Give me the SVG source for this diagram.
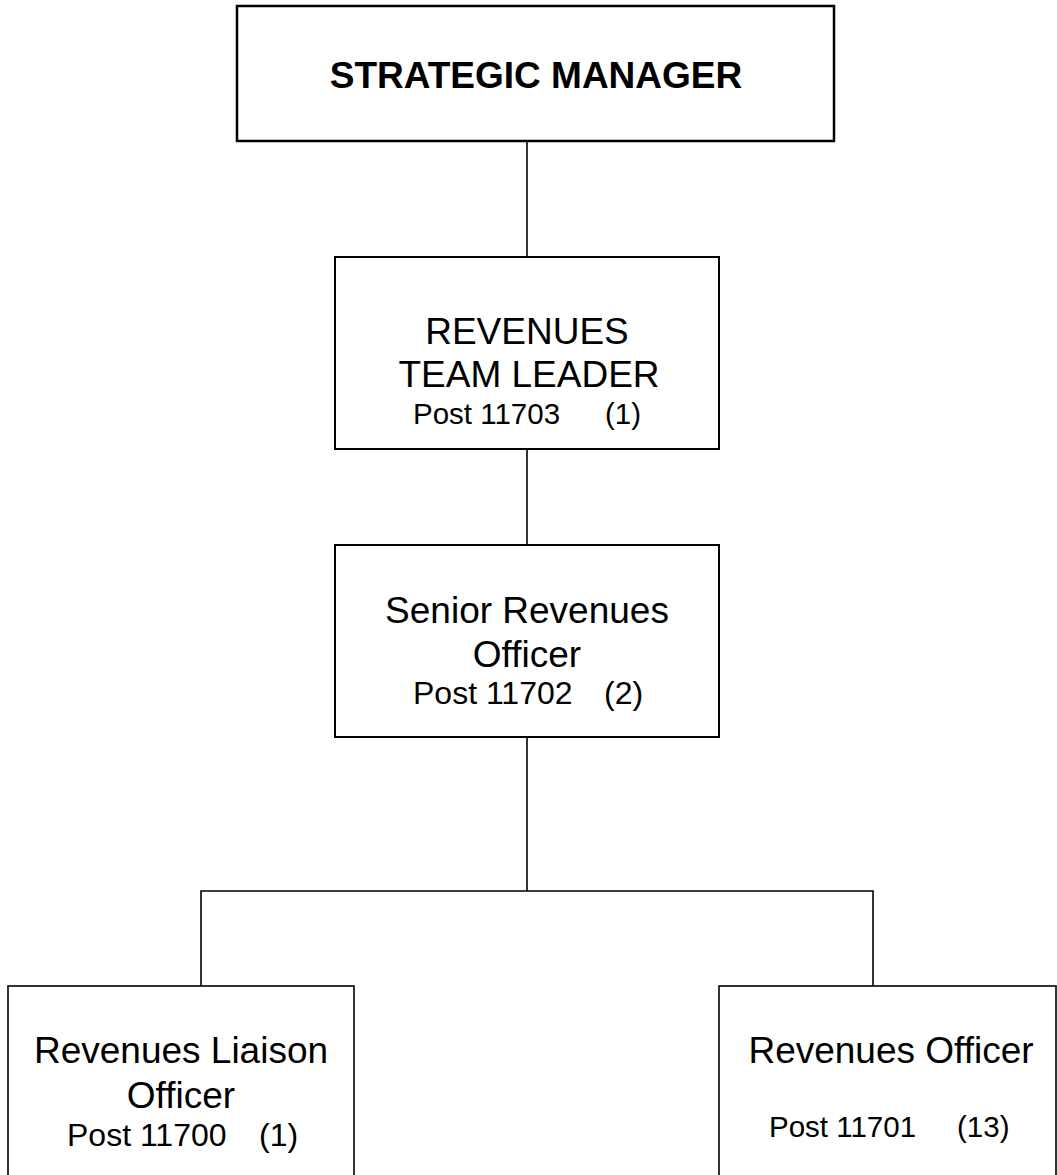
<svg xmlns="http://www.w3.org/2000/svg" width="1057" height="1175" viewBox="0 0 1057 1175">
<style>
.box{fill:#fff;stroke:#000;stroke-width:2}
.thick{stroke-width:2.5}
.thin{stroke-width:1.6}
.t{font-family:"Liberation Sans",Arial,sans-serif;fill:#000;text-anchor:middle}
.h{font-size:37px}
.b{font-weight:bold}
.p{font-family:"Liberation Sans",Arial,sans-serif;fill:#000}
.conn{stroke:#000;stroke-width:1.6;fill:none}
</style>
<rect width="1057" height="1175" fill="#fff"/>
<g id="connectors">
<line class="conn" x1="527" y1="141" x2="527" y2="257"/>
<line class="conn" x1="527" y1="449" x2="527" y2="545"/>
<line class="conn" x1="527" y1="737" x2="527" y2="891"/>
<polyline class="conn" points="201,986 201,891 873,891 873,986"/>
</g>
<g id="strategic-manager">
<rect class="box thick" x="237" y="6" width="597" height="135"/>
<text class="t h b" x="536" y="88">STRATEGIC MANAGER</text>
</g>
<g id="revenues-team-leader">
<rect class="box" x="335" y="257" width="384" height="192"/>
<text class="t h" x="527" y="344">REVENUES</text>
<text class="t h" x="529" y="387">TEAM LEADER</text>
<text class="p" y="424" style="font-size:29.5px"><tspan x="413">Post 11703</tspan><tspan x="605">(1)</tspan></text>
</g>
<g id="senior-revenues-officer">
<rect class="box" x="335" y="545" width="384" height="192"/>
<text class="t h" x="527" y="623">Senior Revenues</text>
<text class="t h" x="527" y="667">Officer</text>
<text class="p" y="704" style="font-size:32px"><tspan x="413">Post 11702</tspan><tspan x="604">(2)</tspan></text>
</g>
<g id="revenues-liaison-officer">
<rect class="box thin" x="8" y="986" width="346" height="220"/>
<text class="t h" x="181" y="1063">Revenues Liaison</text>
<text class="t h" x="181" y="1108">Officer</text>
<text class="p" y="1146" style="font-size:32px"><tspan x="67">Post 11700</tspan><tspan x="259">(1)</tspan></text>
</g>
<g id="revenues-officer">
<rect class="box thin" x="719" y="986" width="337" height="220"/>
<text class="t h" x="891" y="1063">Revenues Officer</text>
<text class="p" y="1137" style="font-size:29.5px"><tspan x="769">Post 11701</tspan><tspan x="957">(13)</tspan></text>
</g>
</svg>
